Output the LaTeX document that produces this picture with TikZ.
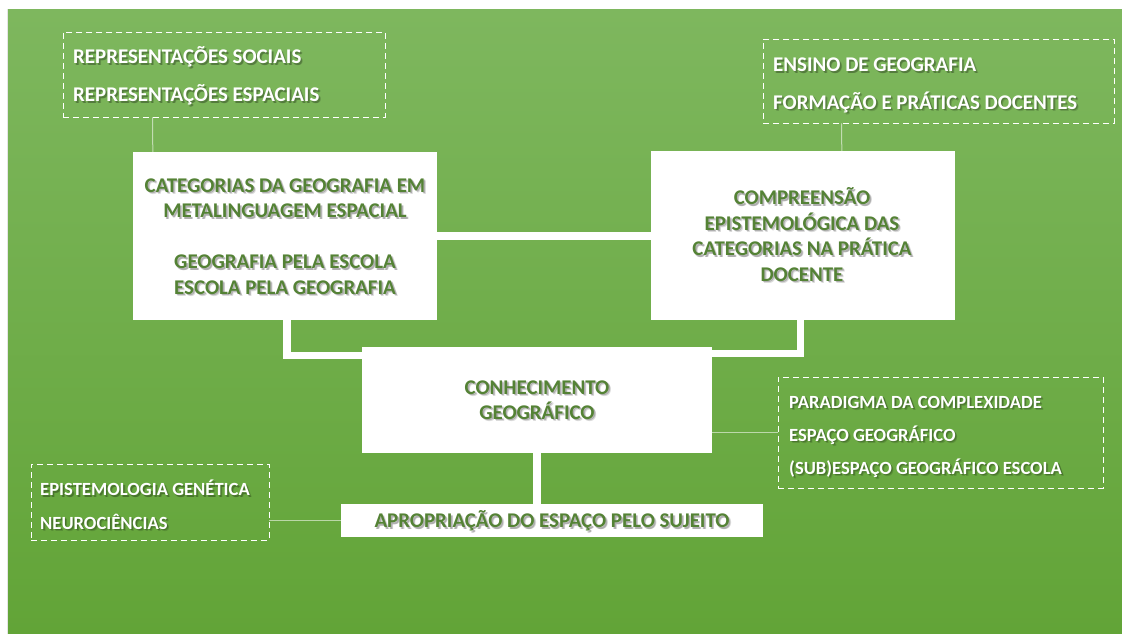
\documentclass[tikz,border=0pt]{standalone}
\usepackage{fontspec}
\setmainfont{Carlito}
\definecolor{bgtop}{HTML}{7EB75E}
\definecolor{bgbot}{HTML}{62A437}
\definecolor{dkgreen}{HTML}{548235}
\newcommand{\stext}[5]{% name, options, position, color, text
  \node[txt,#2,text=black,opacity=0.14,xshift=2.2pt,yshift=-2.2pt] (#1s) at #3 {#5};
  \node[txt,#2,text=black,opacity=0.2,xshift=1.4pt,yshift=-1.4pt] (#1r) at #3 {#5};
  \node[txt,#2,text=#4] (#1) at #3 {#5};}
\begin{document}
\begin{tikzpicture}[x=1pt,y=-1pt,
  txt/.style={inner sep=0pt,align=center,font=\bfseries\fontsize{20.9}{25.5}\selectfont},
  small/.style={font=\bfseries\fontsize{18.6}{22}\selectfont},
  wbox/.style={fill=white,draw=none,inner sep=0pt},
  dbox/.style={draw=white,dash pattern=on 6pt off 4pt,line width=0.9pt,inner sep=0pt},
  conn/.style={draw=white,line width=7.5pt},
  tconn/.style={draw=white,draw opacity=0.55,line width=1pt}]
\useasboundingbox (0,0) rectangle (1122,634);
\fill[black!10] (6.5,9) rectangle (1122,634);
\shade[top color=bgtop,bottom color=bgbot] (8,10) rectangle (1122,634);
% dashed boxes
\node[dbox,minimum width=322,minimum height=85] (tl) at (224,74.5) {};
\node[dbox,minimum width=351,minimum height=84] (tr) at (938.5,81) {};
\node[dbox,minimum width=325,minimum height=111] (rb) at (940.5,432.5) {};
\node[dbox,minimum width=238,minimum height=76] (lb) at (150,502) {};
% white boxes
\node[wbox,minimum width=304,minimum height=168] (b1) at (285,236) {};
\node[wbox,minimum width=304,minimum height=169] (b2) at (803,235.5) {};
\node[wbox,minimum width=350,minimum height=106] (ck) at (537,400) {};
\node[wbox,minimum width=422,minimum height=33] (ap) at (552,520.5) {};
% connectors
\draw[conn] (b1.east) -- (b1.east -| b2.west);
\draw[conn] ([xshift=2pt]b1.south) |- ([yshift=-8.5pt]ck.north west);
\draw[conn] ([xshift=-2.5pt]b2.south) |- ([yshift=-6.5pt]ck.north east);
\draw[conn] (ck.south) -- (ck.south |- ap.north);
\draw[tconn] ([xshift=90pt]tl.south west) -- ([xshift=20pt]b1.north west);
\draw[tconn] ([xshift=79pt]tr.south west) -- ([xshift=191pt]b2.north west);
\draw[tconn] (rb.west -| ck.east) -- (rb.west);
\draw[tconn] (ap.west -| lb.east) -- (ap.west);
% box texts
\stext{t1}{}{(285,236.5)}{dkgreen}{CATEGORIAS DA GEOGRAFIA EM\\METALINGUAGEM ESPACIAL\\[25.5pt]GEOGRAFIA PELA ESCOLA\\ESCOLA PELA GEOGRAFIA}
\stext{t2}{}{(802,234.5)}{dkgreen}{COMPREENSÃO\\EPISTEMOLÓGICA DAS\\CATEGORIAS NA PRÁTICA\\DOCENTE}
\stext{t3}{}{(537,400)}{dkgreen}{CONHECIMENTO\\GEOGRÁFICO}
\stext{t4}{}{(552,521)}{dkgreen}{APROPRIAÇÃO DO ESPAÇO PELO SUJEITO}
% dashed box texts
\stext{a1}{anchor=west}{(73,57)}{white}{REPRESENTAÇÕES SOCIAIS}
\stext{a2}{anchor=west}{(73,95)}{white}{REPRESENTAÇÕES ESPACIAIS}
\stext{b1t}{anchor=west}{(773,65)}{white}{ENSINO DE GEOGRAFIA}
\stext{b2t}{anchor=west}{(773,102)}{white}{FORMAÇÃO E PRÁTICAS DOCENTES}
\stext{c1}{anchor=west,small}{(789,402)}{white}{PARADIGMA DA COMPLEXIDADE}
\stext{c2}{anchor=west,small}{(789,435)}{white}{ESPAÇO GEOGRÁFICO}
\stext{c3}{anchor=west,small}{(789,468)}{white}{(SUB)ESPAÇO GEOGRÁFICO ESCOLA}
\stext{d1}{anchor=west,small}{(40,488)}{white}{EPISTEMOLOGIA GENÉTICA}
\stext{d2}{anchor=west,small}{(40,522)}{white}{NEUROCIÊNCIAS}
\end{tikzpicture}
\end{document}
